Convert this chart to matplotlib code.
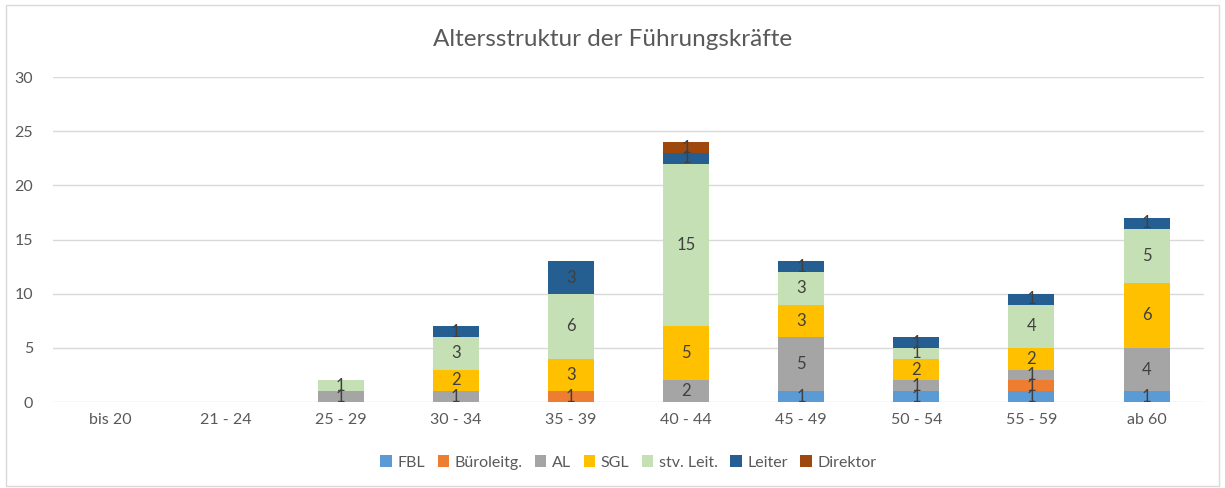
import matplotlib.pyplot as plt
import numpy as np
from matplotlib.patches import Rectangle

plt.rcParams['font.family'] = ['Lato', 'DejaVu Sans']

categories = ["bis 20", "21 - 24", "25 - 29", "30 - 34", "35 - 39",
              "40 - 44", "45 - 49", "50 - 54", "55 - 59", "ab 60"]

fbl = [0, 0, 0, 0, 0, 0, 1, 1, 1, 1]
bueroleitg = [0, 0, 0, 0, 1, 0, 0, 0, 1, 0]
al = [0, 0, 1, 1, 0, 2, 5, 1, 1, 4]
sgl = [0, 0, 0, 2, 3, 5, 3, 2, 2, 6]
stv_leit = [0, 0, 1, 3, 6, 15, 3, 1, 4, 5]
leiter = [0, 0, 0, 1, 3, 1, 1, 1, 1, 1]
direktor = [0, 0, 0, 0, 0, 1, 0, 0, 0, 0]

series = [
    ("FBL", fbl, "#5B9BD5"),
    ("Büroleitg.", bueroleitg, "#ED7D31"),
    ("AL", al, "#A5A5A5"),
    ("SGL", sgl, "#FFC000"),
    ("stv. Leit.", stv_leit, "#C5E0B4"),
    ("Leiter", leiter, "#255E91"),
    ("Direktor", direktor, "#9E480E"),
]

fig = plt.figure(figsize=(12.25, 4.88), dpi=100)
ax = fig.add_axes([0.043, 0.176, 0.94, 0.666])

x = np.arange(len(categories))
bottom = np.zeros(len(categories))
for name, vals, color in series:
    vals = np.array(vals, dtype=float)
    ax.bar(x, vals, 0.4, bottom=bottom, color=color, label=name, zorder=3)
    # Excel-style centred data labels, zeros hidden
    for xi, v, b in zip(x, vals, bottom):
        if v > 0:
            ax.text(xi, b + v / 2, f"{int(v)}", ha="center", va="center",
                    fontsize=12, color="#404040", zorder=4)
    bottom += vals

ax.set_ylim(0, 30)
ax.set_xlim(-0.5, len(categories) - 0.5)
ax.set_yticks(range(0, 31, 5))
ax.set_xticks(x)
ax.set_xticklabels(categories)
ax.grid(axis="y", color="#D9D9D9", linewidth=1, zorder=0)
for s in ax.spines.values():
    s.set_visible(False)
ax.tick_params(length=0, labelsize=11.5, colors="#595959", pad=8)
ax.tick_params(axis="y", pad=14)

fig.suptitle("Altersstruktur der Führungskräfte", y=0.94, fontsize=17.5, color="#595959")

ax.legend(loc="upper center", bbox_to_anchor=(0.5, -0.12), ncol=7, frameon=False,
          fontsize=11.5, labelcolor="#595959", handlelength=0.7, handleheight=0.7,
          handletextpad=0.35, columnspacing=0.8)

fig.patches.append(Rectangle((0.005, 0.005), 0.99, 0.985, transform=fig.transFigure,
                             fill=False, edgecolor="#D9D9D9", linewidth=1))

fig.savefig("out.png", dpi=100)
